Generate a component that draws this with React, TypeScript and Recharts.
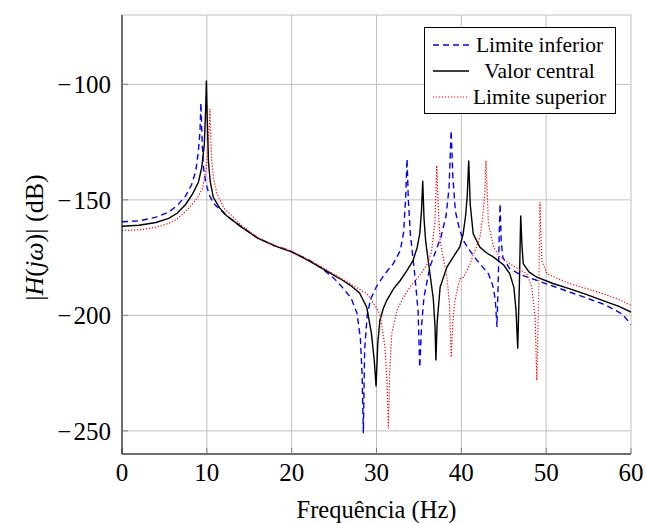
import { LineChart, Line, XAxis, YAxis, CartesianGrid, Legend } from 'recharts';

// [frequency Hz, magnitude dB]
const inferior: [number, number][] = [
  [0, -159.5], [2, -159.1], [4, -157.5], [5.5, -155.3], [6.5, -152.5], [7.5, -148.3],
  [8.2, -143.5], [8.7, -137.5], [9.0, -129], [9.2, -120], [9.3, -108], [9.45, -125],
  [9.6, -136], [9.9, -143], [10.3, -148], [10.8, -151.5], [11.5, -154], [12.5, -157.3],
  [14, -161.5], [16, -166.5], [18, -169.8], [20, -172.4], [22, -176], [23.5, -179.5],
  [25, -184], [26, -188], [27, -192.5], [27.7, -199], [28.1, -210], [28.3, -225],
  [28.45, -251], [28.6, -215], [28.9, -200], [29.3, -193], [30, -187.5], [31, -182],
  [32, -177.5], [32.8, -172], [33.2, -164], [33.45, -148], [33.6, -132.3], [33.75, -150],
  [34, -165], [34.5, -182], [34.9, -198], [35.1, -222.5], [35.3, -205], [35.6, -192],
  [36.3, -179], [37, -172], [37.6, -166], [38.2, -157], [38.55, -145], [38.8, -120],
  [39, -140], [39.3, -155], [39.8, -163], [40.3, -168], [41, -172], [41.8, -176],
  [42.5, -179], [43.2, -182], [43.7, -187], [44, -193], [44.2, -205], [44.35, -185],
  [44.5, -160], [44.57, -151.7], [44.7, -168], [44.9, -175], [45.7, -179.8], [47, -182.4],
  [49, -185], [51, -187.6], [53, -190.2], [55, -192.8], [57, -195.5], [59, -199.5], [60, -204],
];

const central: [number, number][] = [
  [0, -161.4], [2, -161], [4, -159.8], [5.5, -158], [6.5, -155.8], [7.5, -152],
  [8.3, -147.5], [9.0, -142.5], [9.4, -136], [9.7, -126], [9.85, -112], [9.95, -98.4],
  [10.05, -115], [10.2, -134], [10.4, -142], [10.76, -148.9], [11.5, -153.5], [12.3, -156.8],
  [14, -161.6], [16, -166.6], [18, -169.9], [20, -172.5], [22, -176.3], [24, -180.5],
  [25, -182.7], [26, -184.8], [27, -187.2], [28, -190.3], [28.85, -196.5], [29.4, -207.8],
  [29.75, -220], [29.95, -230.8], [30.15, -212], [30.4, -202.2], [30.8, -197], [31.2, -193.6],
  [32, -188.5], [32.8, -184.9], [33.6, -180.5], [34.3, -176.3], [34.8, -170.5], [35.1, -164.6],
  [35.3, -155], [35.45, -141.7], [35.6, -158], [35.8, -168], [36.3, -181.9], [36.7, -193],
  [36.9, -205], [37.0, -219.5], [37.15, -203], [37.5, -187.8], [38.3, -179.1], [39, -175],
  [39.8, -170.5], [40.2, -165], [40.5, -157], [40.7, -148], [40.87, -133], [41.05, -152],
  [41.4, -164.7], [42.2, -170.5], [43, -173], [43.8, -174.8], [45, -178.2], [45.7, -181.9],
  [46.2, -188], [46.45, -198], [46.65, -214.4], [46.85, -185], [47.0, -156.8], [47.15, -170],
  [47.3, -177.7], [48, -181.3], [48.9, -183.5], [50.8, -186.2], [52.8, -188.5], [54.8, -191],
  [56.7, -193.6], [58.5, -196], [60, -198.6],
];

const superior: [number, number][] = [
  [0, -163.3], [2, -163], [4, -161.9], [5.5, -160.2], [6.5, -158.3], [7.5, -155],
  [8.3, -151.8], [9.0, -148.5], [9.5, -145], [9.9, -137.3], [10.17, -125.8], [10.3, -118],
  [10.37, -110.6], [10.45, -122], [10.57, -133], [10.8, -141], [11.2, -147.4], [12, -153.5],
  [12.7, -156], [14, -160.8], [16, -166.3], [18, -169.7], [20, -172.2], [22, -175.9],
  [24, -180], [24.9, -182], [26.9, -186.3], [28.85, -190.6], [29.2, -192.2], [30.4, -199.2],
  [31.0, -213.7], [31.25, -230], [31.4, -249], [31.55, -225], [31.8, -208], [32.4, -197.9],
  [33.2, -192], [33.95, -187.8], [34.8, -184], [35.5, -180.6], [36.1, -177], [36.5, -171.9],
  [36.9, -159], [37.1, -135.2], [37.3, -155], [37.5, -167.6], [38.3, -183.5], [38.6, -195],
  [38.8, -218.1], [39.0, -203], [39.25, -193.6], [39.8, -184.2], [40.24, -183.5], [41, -178],
  [41.6, -172], [42.2, -166], [42.5, -158], [42.75, -148], [42.9, -133], [43.2, -160.4],
  [43.8, -170.5], [44.5, -174.5], [45.7, -177.7], [47, -180.5], [47.7, -181.9], [48.3, -187.8],
  [48.7, -200.8], [48.9, -228.2], [49.1, -195], [49.27, -151], [49.4, -168], [49.5, -176.3],
  [50.1, -182], [51.5, -184.3], [52.8, -186.3], [54.8, -188.5], [56.7, -190.6], [58.5, -193],
  [60, -195.7],
];

const xTicks = [0, 10, 20, 30, 40, 50, 60];
const yTicks = [-250, -200, -150, -100];

const series = [
  { name: 'Limite inferior', points: inferior, color: '#0000ff', dash: '6 4', width: 1.4 },
  { name: 'Valor central', points: central, color: '#000000', dash: undefined, width: 1.4 },
  { name: 'Limite superior', points: superior, color: '#ff0000', dash: '1.2 1.8', width: 1.2 },
];

const FONT = '"Liberation Serif", "Times New Roman", serif';
// wider TeX-like minus: glyph plus a hair space
const fmt = (v: number) => (v < 0 ? '\u2212\u200A' + Math.abs(v) : String(v));

const LegendBox = () => (
  <div
    style={{
      border: '1px solid #000',
      background: '#fff',
      padding: '4px 6px 3px 7px',
      fontFamily: FONT,
      fontSize: 21.5,
      color: '#000',
    }}
  >
    {series.map((s) => (
      <div key={s.name} style={{ display: 'flex', alignItems: 'center', height: 26 }}>
        <svg width={38} height={10} style={{ flex: 'none' }}>
          <line x1={1} y1={5} x2={37} y2={5} stroke={s.color} strokeWidth={s.width} strokeDasharray={s.dash} />
        </svg>
        <span style={{ flex: 1, textAlign: 'center', whiteSpace: 'nowrap' }}>{s.name}</span>
      </div>
    ))}
  </div>
);

const YLabel = (props: any) => {
  const vb = props.viewBox || {};
  const cx = (vb.x ?? 0) + 34;
  const cy = (vb.y ?? 0) + (vb.height ?? 0) / 2 + 3;
  return (
    <text
      x={cx}
      y={cy}
      transform={`rotate(-90 ${cx} ${cy})`}
      textAnchor="middle"
      dominantBaseline="central"
      fontFamily={FONT}
      fontSize={26}
      fill="#000"
    >
      |<tspan fontStyle="italic">H</tspan>(<tspan fontStyle="italic">jω</tspan>)| (dB)
    </text>
  );
};

const XLabel = (props: any) => {
  const vb = props.viewBox || {};
  return (
    <text
      x={(vb.x ?? 0) + (vb.width ?? 0) / 2}
      y={(vb.y ?? 0) + 55}
      textAnchor="middle"
      dominantBaseline="central"
      fontFamily={FONT}
      fontSize={24.5}
      fill="#000"
    >
      Frequência (Hz)
    </text>
  );
};

export default function App() {
  const tickStyle = { fontFamily: FONT, fontSize: 25, fill: '#000' };
  return (
    <div style={{ position: 'absolute', left: 0, top: 0, background: '#fff' }}>
      <LineChart width={646} height={523} margin={{ top: 15, right: 15, bottom: 0, left: 0 }}>
        <CartesianGrid stroke="#c0c0c0" strokeWidth={1} />
        <XAxis
          dataKey="hz"
          type="number"
          domain={[0, 60]}
          ticks={xTicks}
          allowDataOverflow
          height={69}
          tickSize={-6}
          tickMargin={15}
          tickLine={{ stroke: '#808080' }}
          axisLine={{ stroke: '#000' }}
          tick={tickStyle}
          label={{ content: XLabel }}
        />
        <XAxis
          xAxisId="top"
          orientation="top"
          type="number"
          domain={[0, 60]}
          ticks={xTicks}
          allowDataOverflow
          height={0}
          tickSize={-6}
          tick={false}
          tickLine={{ stroke: '#808080' }}
          axisLine={{ stroke: '#000' }}
        />
        <YAxis
          type="number"
          domain={[-260, -70]}
          ticks={yTicks}
          allowDataOverflow
          width={122}
          tickSize={-6}
          tickMargin={17}
          tickLine={{ stroke: '#808080' }}
          axisLine={{ stroke: '#000' }}
          tick={tickStyle}
          tickFormatter={fmt}
          label={{ content: YLabel }}
        />
        <YAxis
          yAxisId="right"
          orientation="right"
          type="number"
          domain={[-260, -70]}
          ticks={yTicks}
          allowDataOverflow
          width={0}
          tickSize={-6}
          tick={false}
          tickLine={{ stroke: '#808080' }}
          axisLine={{ stroke: '#000' }}
        />
        {series.map((s) => (
          <Line
            key={s.name}
            name={s.name}
            data={s.points.map(([hz, db]) => ({ hz, db }))}
            dataKey="db"
            type="linear"
            stroke={s.color}
            strokeWidth={s.width}
            strokeDasharray={s.dash}
            dot={false}
            activeDot={false}
            isAnimationActive={false}
          />
        ))}
        <Legend
          layout="vertical"
          align="center"
          verticalAlign="middle"
          content={LegendBox}
          wrapperStyle={{ position: 'absolute', left: 424, top: 27, width: 192, height: 'auto' }}
        />
      </LineChart>
    </div>
  );
}
